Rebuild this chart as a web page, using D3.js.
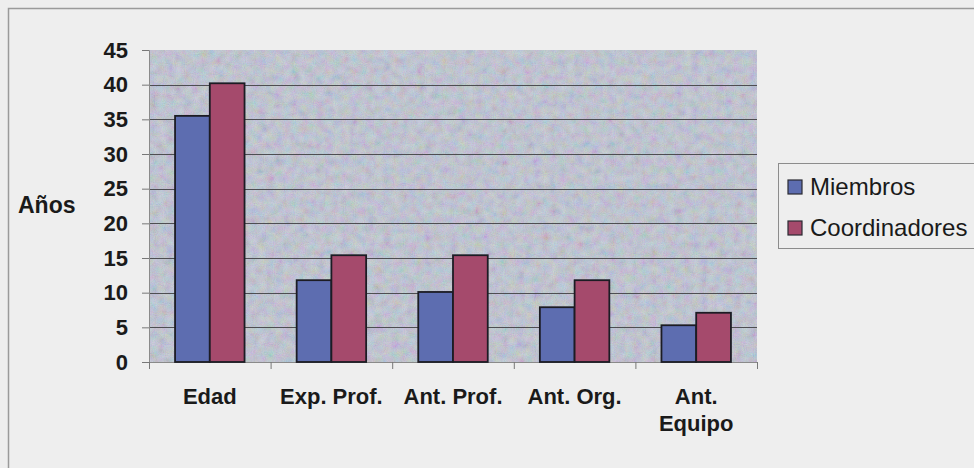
<!DOCTYPE html>
<html>
<head>
<meta charset="utf-8">
<script src="https://cdn.jsdelivr.net/npm/d3@7"></script>
<style>
  html, body { margin: 0; padding: 0; background: #eeeeee; }
  svg { display: block; }
  text { font-family: "Liberation Sans", Arial, sans-serif; fill: #1a1a1a; }
</style>
</head>
<body>
<svg id="chart" width="974" height="468"></svg>
<script>
// Promedio de años por grupo
const categories = ["Edad", "Exp. Prof.", "Ant. Prof.", "Ant. Org.", "Ant. Equipo"];
const seriesNames = ["Miembros", "Coordinadores"];
const miembros = [35.5, 11.8, 10.1, 7.9, 5.3];
const coordinadores = [40.2, 15.4, 15.4, 11.8, 7.1];
const yTicks = [0, 5, 10, 15, 20, 25, 30, 35, 40, 45];
const yTitle = "Años";

const seriesValues = [miembros, coordinadores];
const colors = ["#5d6db0", "#a54a6c"];

const svg = d3.select("#chart");
const W = 974, H = 468;
const plot = { left: 149, right: 757, top: 50, bottom: 362 };

// mottled grain for the plot area
const defs = svg.append("defs");
const blot = defs.append("filter").attr("id", "blot")
  .attr("x", 0).attr("y", 0).attr("width", "100%").attr("height", "100%");
blot.append("feTurbulence").attr("type", "fractalNoise")
  .attr("baseFrequency", 0.12).attr("numOctaves", 2).attr("seed", 7).attr("result", "n");
blot.append("feColorMatrix").attr("in", "n").attr("type", "matrix")
  .attr("values", "1.4 0 0 0 -0.2  0 1.4 0 0 -0.2  0 0 1.4 0 -0.2  0 0 0 0 0.22");
const grain = defs.append("filter").attr("id", "grain")
  .attr("x", 0).attr("y", 0).attr("width", "100%").attr("height", "100%");
grain.append("feTurbulence").attr("type", "fractalNoise")
  .attr("baseFrequency", 0.9).attr("numOctaves", 1).attr("seed", 3).attr("result", "n");
grain.append("feColorMatrix").attr("in", "n").attr("type", "matrix")
  .attr("values", "1 0 0 0 0.1  0 1 0 0 0.1  0 0 1 0 0.15  0 0 0 0 0.25");

// chart frame
svg.append("path")
  .attr("d", `M8.5,${H} V8.5 H${W}`)
  .attr("fill", "none").attr("stroke", "#9a9a9a").attr("stroke-width", 1.5);

const x0 = d3.scaleBand().domain(categories)
  .range([plot.left, plot.right]).paddingInner(0).paddingOuter(0);
const groupW = x0.bandwidth() / 1.75;
const x1 = d3.scaleBand().domain(seriesNames).range([0, groupW]);
const y = d3.scaleLinear().domain([0, 45]).range([plot.bottom, plot.top]);

// plot background
const pw = plot.right - plot.left, ph = plot.bottom - plot.top;
svg.append("rect")
  .attr("x", plot.left).attr("y", plot.top).attr("width", pw).attr("height", ph)
  .attr("fill", "#bac1d3");
svg.append("rect")
  .attr("x", plot.left).attr("y", plot.top).attr("width", pw).attr("height", ph)
  .attr("filter", "url(#blot)");
svg.append("rect")
  .attr("x", plot.left).attr("y", plot.top).attr("width", pw).attr("height", ph)
  .attr("filter", "url(#grain)");

// gridlines
svg.append("g").selectAll("line")
  .data(yTicks.filter(t => t > 0 && t < 45))
  .join("line")
  .attr("x1", plot.left).attr("x2", plot.right)
  .attr("y1", d => Math.round(y(d)) + 0.5).attr("y2", d => Math.round(y(d)) + 0.5)
  .attr("stroke", "#4e4e52").attr("stroke-width", 1);

// y axis
const yAxis = d3.axisLeft(y).tickValues(yTicks).tickSize(7).tickPadding(14);
const gy = svg.append("g").attr("transform", `translate(${plot.left},0)`).call(yAxis);
gy.select(".domain").attr("stroke", "#8a8a8a").attr("stroke-width", 1);
gy.selectAll(".tick line").attr("stroke", "#777");
gy.selectAll(".tick text")
  .style("font-family", '"Liberation Sans", Arial, sans-serif')
  .style("font-weight", "bold").style("font-size", "22px").attr("fill", "#1a1a1a");

// x axis
const xAxis = d3.axisBottom(x0).tickSize(0).tickFormat("");
const gx = svg.append("g").attr("transform", `translate(0,${plot.bottom})`).call(xAxis);
gx.select(".domain").attr("stroke", "#8a8a8a").attr("stroke-width", 1);
svg.append("g").selectAll("line")
  .data(categories.map(c => x0(c)).concat([plot.right]))
  .join("line")
  .attr("x1", d => d + 0.5).attr("x2", d => d + 0.5)
  .attr("y1", plot.bottom).attr("y2", plot.bottom + 7)
  .attr("stroke", "#777");

// category labels, wrapped when wider than the band
const labels = svg.append("g").selectAll("text")
  .data(categories).join("text")
  .attr("x", d => x0(d) + x0.bandwidth() / 2)
  .attr("y", 404)
  .attr("text-anchor", "middle")
  .style("font-weight", "bold").style("font-size", "22px");
labels.each(function (d) {
  const t = d3.select(this);
  t.text(d);
  if (this.getComputedTextLength() > x0.bandwidth() - 6) {
    t.text(null);
    d.split(" ").forEach((w, i) => {
      t.append("tspan").attr("x", x0(d) + x0.bandwidth() / 2)
        .attr("dy", i === 0 ? 0 : 27).text(w);
    });
  }
});

// bars
const groups = svg.append("g").selectAll("g")
  .data(categories).join("g")
  .attr("transform", d => `translate(${x0(d) + (x0.bandwidth() - groupW) / 2},0)`);
groups.selectAll("rect")
  .data((c, i) => seriesNames.map((s, k) => ({ s, v: seriesValues[k][i], k })))
  .join("rect")
  .attr("x", d => x1(d.s))
  .attr("y", d => y(d.v))
  .attr("width", x1.bandwidth())
  .attr("height", d => y(0) - y(d.v))
  .attr("fill", d => colors[d.k])
  .attr("stroke", "#1c1c24").attr("stroke-width", 1.8);

// y title
svg.append("text")
  .attr("x", 18).attr("y", 213)
  .style("font-weight", "bold").style("font-size", "23px")
  .text(yTitle);

// legend
const lg = svg.append("g");
lg.append("rect")
  .attr("x", 778.5).attr("y", 163.5).attr("width", 240).attr("height", 85)
  .attr("fill", "none").attr("stroke", "#8c8c8c").attr("stroke-width", 1);
seriesNames.forEach((name, i) => {
  const cy = 187 + i * 41;
  lg.append("rect")
    .attr("x", 788).attr("y", cy - 7).attr("width", 14).attr("height", 14)
    .attr("fill", colors[i]).attr("stroke", "#2a2a32").attr("stroke-width", 1.2);
  lg.append("text")
    .attr("x", 810).attr("y", cy + 8)
    .style("font-size", "24px")
    .text(name);
});
</script>
</body>
</html>
